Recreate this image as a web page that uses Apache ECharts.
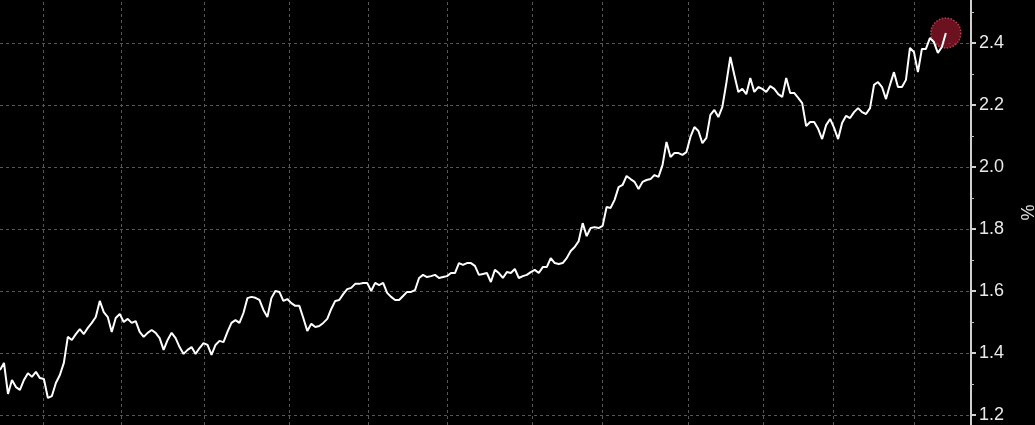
<!DOCTYPE html>
<html>
<head>
<meta charset="utf-8">
<script src="https://cdn.jsdelivr.net/npm/echarts@6/dist/echarts.min.js"></script>
<style>
html,body{margin:0;padding:0;background:#000;}
#chart{width:1035px;height:425px;}
</style>
</head>
<body>
<div id="chart"></div>
<script>
// Series values (%), sampled evenly left to right
const values = [
1.345,1.368,1.268,1.313,1.290,1.281,1.313,1.335,1.323,1.339,1.319,1.316,1.255,1.261,1.303,1.329,1.368,1.452,1.442,1.461,1.477,1.461,1.481,1.497,1.516,1.568,1.532,1.516,1.468,1.513,1.526,1.500,
1.510,1.497,1.503,1.468,1.452,1.465,1.474,1.465,1.448,1.410,1.442,1.465,1.448,1.419,1.397,1.410,1.419,1.397,1.416,1.432,1.426,1.394,1.426,1.439,1.435,1.468,1.497,1.506,1.497,1.529,1.577,1.581,
1.578,1.571,1.539,1.516,1.577,1.600,1.597,1.568,1.574,1.561,1.552,1.552,1.513,1.471,1.494,1.484,1.487,1.497,1.510,1.542,1.568,1.571,1.590,1.606,1.610,1.623,1.623,1.626,1.626,1.600,1.626,1.619,1.626,
1.594,1.581,1.571,1.571,1.584,1.597,1.597,1.603,1.642,1.652,1.645,1.648,1.652,1.642,1.645,1.648,1.658,1.658,1.690,1.684,1.690,1.690,1.681,1.652,1.655,1.658,1.629,1.668,1.658,1.642,1.661,1.658,1.671,1.642,1.648,1.652,1.661,1.668,1.658,1.677,1.677,1.706,1.690,1.687,1.690,1.706,1.729,1.742,1.761,
1.819,1.777,1.803,1.806,1.803,1.810,1.871,1.868,1.894,1.935,1.942,1.971,1.961,1.952,1.929,1.952,1.958,1.961,1.974,1.968,2.006,2.081,2.032,2.045,2.045,2.039,2.048,2.097,2.129,2.116,2.077,2.094,2.168,2.184,
2.161,2.194,2.271,2.355,2.297,2.242,2.252,2.235,2.287,2.242,2.258,2.252,2.242,2.261,2.252,2.235,2.226,2.287,2.239,2.239,2.223,2.206,2.132,2.145,2.145,2.123,2.090,2.135,2.155,2.126,2.090,2.142,
2.165,2.158,2.177,2.190,2.177,2.171,2.190,2.265,2.274,2.258,2.219,2.265,2.306,2.258,2.258,2.281,2.384,2.371,2.306,2.381,2.381,2.416,2.403,2.368,2.387,2.432
];
// Vertical grid line positions (in sample-index units)
const vGridPositions = [10.8, 30.3, 51.1, 72.4, 92.2, 112.0, 133.3, 150.8, 172.4, 191.2, 208.7, 229.0];
// Y axis tick labels (major) and minor tick values
const yMajorTicks = [1.2, 1.4, 1.6, 1.8, 2.0, 2.2, 2.4];
const yMinorTicks = [1.3, 1.5, 1.7, 1.9, 2.1, 2.3, 2.5];
const yMin = 1.1677, yMax = 2.5387;
const xMax = 243.3;

const seriesData = values.map((v, i) => [i, v]);
const lastPoint = [[values.length - 1, values[values.length - 1]]];

const chart = echarts.init(document.getElementById('chart'), null, {renderer: 'canvas'});
chart.setOption({
  backgroundColor: '#000',
  animation: false,
  grid: {left: 0, right: 64, top: 0, bottom: 0, containLabel: false, outerBoundsMode: 'none'},
  xAxis: {
    type: 'value', min: 0, max: xMax, show: false
  },
  yAxis: [
    {
      type: 'value', position: 'right', min: yMin, max: yMax, splitNumber: 7,
      name: '%', nameLocation: 'middle', nameGap: 46, nameRotate: -90,
      nameTextStyle: {color: '#e0e0e0', fontSize: 18, fontFamily: 'Liberation Sans'},
      axisLine: {show: true, onZero: false, lineStyle: {color: '#d0d0d0', width: 2}},
      axisTick: {show: true, length: 5, customValues: yMajorTicks, lineStyle: {color: '#d0d0d0', width: 2}},
      axisLabel: {color: '#e8e8e8', fontSize: 18, fontFamily: 'Liberation Sans', margin: 8,
        customValues: yMajorTicks, formatter: v => v.toFixed(1)},
      splitLine: {show: true, lineStyle: {color: '#555', width: 1, type: [3, 3]}}
    },
    {
      type: 'value', position: 'right', offset: 0, min: yMin, max: yMax, splitNumber: 7,
      axisLine: {show: false, onZero: false},
      axisTick: {show: true, length: 3, customValues: yMinorTicks, lineStyle: {color: '#bdbdbd', width: 1}},
      axisLabel: {show: false},
      splitLine: {show: false}
    }
  ],
  series: [
    {
      type: 'scatter', data: lastPoint, symbolSize: 30, silent: true, z: 1,
      itemStyle: {color: 'rgba(140,22,42,0.95)', borderColor: '#cc4d60', borderWidth: 1.5, borderType: 'dotted'}
    },
    {
      type: 'line', data: seriesData, showSymbol: false, smooth: false, z: 3,
      lineStyle: {color: '#ffffff', width: 2},
      markLine: {
        silent: true, symbol: 'none', label: {show: false},
        lineStyle: {color: '#555', width: 1, type: [3, 3]},
        data: vGridPositions.map(x => ({xAxis: x})),
        z: 0
      }
    }
  ]
});
</script>
</body>
</html>
